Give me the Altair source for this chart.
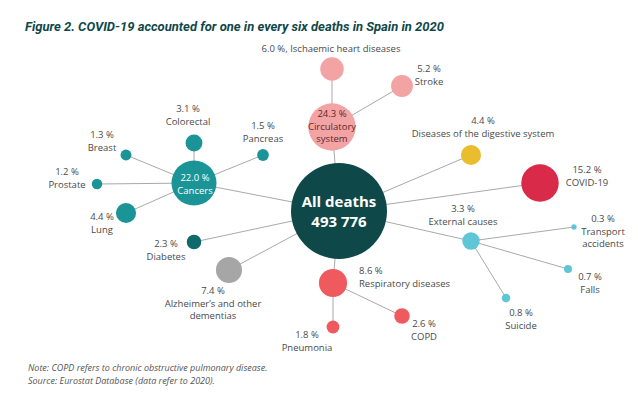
import altair as alt
import pandas as pd

# ---------------- data ----------------
causes = ["All deaths", "Circulatory system", "Ischaemic heart diseases", "Stroke",
          "Cancers", "Colorectal", "Pancreas", "Breast", "Prostate", "Lung",
          "Diseases of the digestive system", "COVID-19", "External causes",
          "Transport accidents", "Falls", "Suicide", "Respiratory diseases",
          "COPD", "Pneumonia", "Alzheimer's and other dementias", "Diabetes"]
shares = [100.0, 24.3, 6.0, 5.2, 22.0, 3.1, 1.5, 1.3, 1.2, 4.4, 4.4, 15.2, 3.3,
          0.3, 0.7, 0.8, 8.6, 2.6, 1.8, 7.4, 2.3]
parents = ["", "All deaths", "Circulatory system", "Circulatory system",
           "All deaths", "Cancers", "Cancers", "Cancers", "Cancers", "Cancers",
           "All deaths", "All deaths", "All deaths", "External causes",
           "External causes", "External causes", "All deaths",
           "Respiratory diseases", "Respiratory diseases", "All deaths", "All deaths"]
total_deaths = "493 776"

# name lines shown under the percentage
name_lines = {
    "All deaths": ["All deaths"],
    "Circulatory system": ["Circulatory", "system"],
    "Ischaemic heart diseases": ["Ischaemic heart diseases"],
    "Stroke": ["Stroke"],
    "Cancers": ["Cancers"],
    "Colorectal": ["Colorectal"],
    "Pancreas": ["Pancreas"],
    "Breast": ["Breast"],
    "Prostate": ["Prostate"],
    "Lung": ["Lung"],
    "Diseases of the digestive system": ["Diseases of the digestive system"],
    "COVID-19": ["COVID-19"],
    "External causes": ["External causes"],
    "Transport accidents": ["Transport", "accidents"],
    "Falls": ["Falls"],
    "Suicide": ["Suicide"],
    "Respiratory diseases": ["Respiratory diseases"],
    "COPD": ["COPD"],
    "Pneumonia": ["Pneumonia"],
    "Alzheimer's and other dementias": ["Alzheimer\u2019s and other", "dementias"],
    "Diabetes": ["Diabetes"],
}

title_text = "Figure 2. COVID-19 accounted for one in every six deaths in Spain in 2020"
note_lines = ["Note: COPD refers to chronic obstructive pulmonary disease.",
              "Source: Eurostat Database (data refer to 2020)."]

# ---------------- layout (page pixel coordinates) ----------------
node_x = [339, 332, 332, 402, 194, 194, 263, 126, 97, 126, 471, 540, 471,
          574, 568, 506, 333, 402, 333, 229, 194]
node_y = [211, 127, 69, 86, 183, 143, 155, 155, 184, 213, 155, 183, 241,
          227, 269, 298, 283, 316, 327, 270, 242]
node_colors = ["#0f4848", "#f4a3a4", "#f4a3a4", "#f4a3a4", "#1b9497", "#1b9497",
               "#1b9497", "#1b9497", "#1b9497", "#1b9497", "#e9bd2d", "#d92a4a",
               "#5fc6d5", "#5fc6d5", "#5fc6d5", "#5fc6d5", "#ee5a5e", "#ee5a5e",
               "#ee5a5e", "#a6a6a6", "#0f6a6a"]

# label anchor: x, y of first line, alignment, style
label_x = [339, 332, 331, 429, 195, 188, 263, 102, 67, 102, 483, 587, 463,
           603, 590, 521, 359, 424, 307, 213, 166]
label_y = [202, 114, 49, 69, 178, 109, 126, 135, 172, 217, 121, 170, 209,
           219, 277, 313, 271, 324, 335, 291, 244]
label_style = ["big", "inside_dark", "single", "c", "inside_white", "c", "c", "c",
               "c", "c", "c", "c", "c", "c", "c", "c", "left", "c", "c", "c", "c"]

W, H = 622, 378
X0, Y0 = 8, 8

nodes = pd.DataFrame({"cause": causes, "share": shares, "parent": parents,
                      "x": node_x, "y": node_y, "color": node_colors})
pos = nodes.set_index("cause")
edges = nodes[nodes["parent"] != ""].copy()
edges["px"] = [pos.loc[p, "x"] for p in edges["parent"]]
edges["py"] = [pos.loc[p, "y"] for p in edges["parent"]]

rows = []
for c, s, lx, ly, st in zip(causes, shares, label_x, label_y, label_style):
    if st == "big":
        lines = name_lines[c] + [total_deaths]
        gap = 19.5
    elif st == "single":
        lines = [f"{s:.1f} %, " + name_lines[c][0]]
        gap = 12.5
    else:
        lines = [f"{s:.1f} %"] + name_lines[c]
        gap = 12.5
    for i, t in enumerate(lines):
        rows.append({"text": t, "x": lx, "y": ly + i * gap,
                     "style": "c" if st == "single" else st})
labels = pd.DataFrame(rows)

xs = alt.Scale(domain=[X0, X0 + W])
ys = alt.Scale(domain=[Y0 + H, Y0])
X = alt.X("x:Q", scale=xs, axis=None)
Y = alt.Y("y:Q", scale=ys, axis=None)

edge_layer = alt.Chart(edges).mark_rule(color="#a9a9a9", strokeWidth=1).encode(
    x=alt.X("px:Q", scale=xs, axis=None), y=alt.Y("py:Q", scale=ys, axis=None),
    x2="x:Q", y2="y:Q")

node_layer = alt.Chart(nodes).mark_circle(opacity=1).encode(
    x=X, y=Y,
    size=alt.Size("share:Q", scale=alt.Scale(type="linear", domain=[0, 100],
                                              range=[0, 9216]), legend=None),
    color=alt.Color("color:N", scale=None))

FONT = "Open Sans"
def text_layer(style, **kw):
    return alt.Chart(labels[labels["style"] == style]).mark_text(
        font=FONT, baseline="middle", **kw).encode(x=X, y=Y, text="text:N")

layers = [edge_layer, node_layer,
          text_layer("c", align="center", fontSize=9.5, color="#4a4a4a"),
          text_layer("left", align="left", fontSize=9.5, color="#4a4a4a"),
          text_layer("inside_dark", align="center", fontSize=9.5, color="#5a2a2a"),
          text_layer("inside_white", align="center", fontSize=9.5, color="#ffffff"),
          text_layer("big", align="center", fontSize=15, fontWeight="bold",
                     color="#ffffff")]

title_df = pd.DataFrame({"text": [title_text], "x": [25], "y": [27]})
layers.append(alt.Chart(title_df).mark_text(
    font="Roboto", fontSize=13, fontStyle="italic", fontWeight="bold",
    align="left", baseline="middle", color="#0f4848").encode(x=X, y=Y, text="text:N"))

note_df = pd.DataFrame({"text": note_lines, "x": [28, 28], "y": [368, 381]})
layers.append(alt.Chart(note_df).mark_text(
    font=FONT, fontSize=9, fontStyle="italic", align="left", baseline="middle",
    color="#555555").encode(x=X, y=Y, text="text:N"))

chart = alt.layer(*layers).properties(
    width=W, height=H, autosize=alt.AutoSizeParams(type="none"), padding=0
).configure_view(stroke=None)

chart.save("out.html", embed_options={"renderer": "svg", "actions": False})
